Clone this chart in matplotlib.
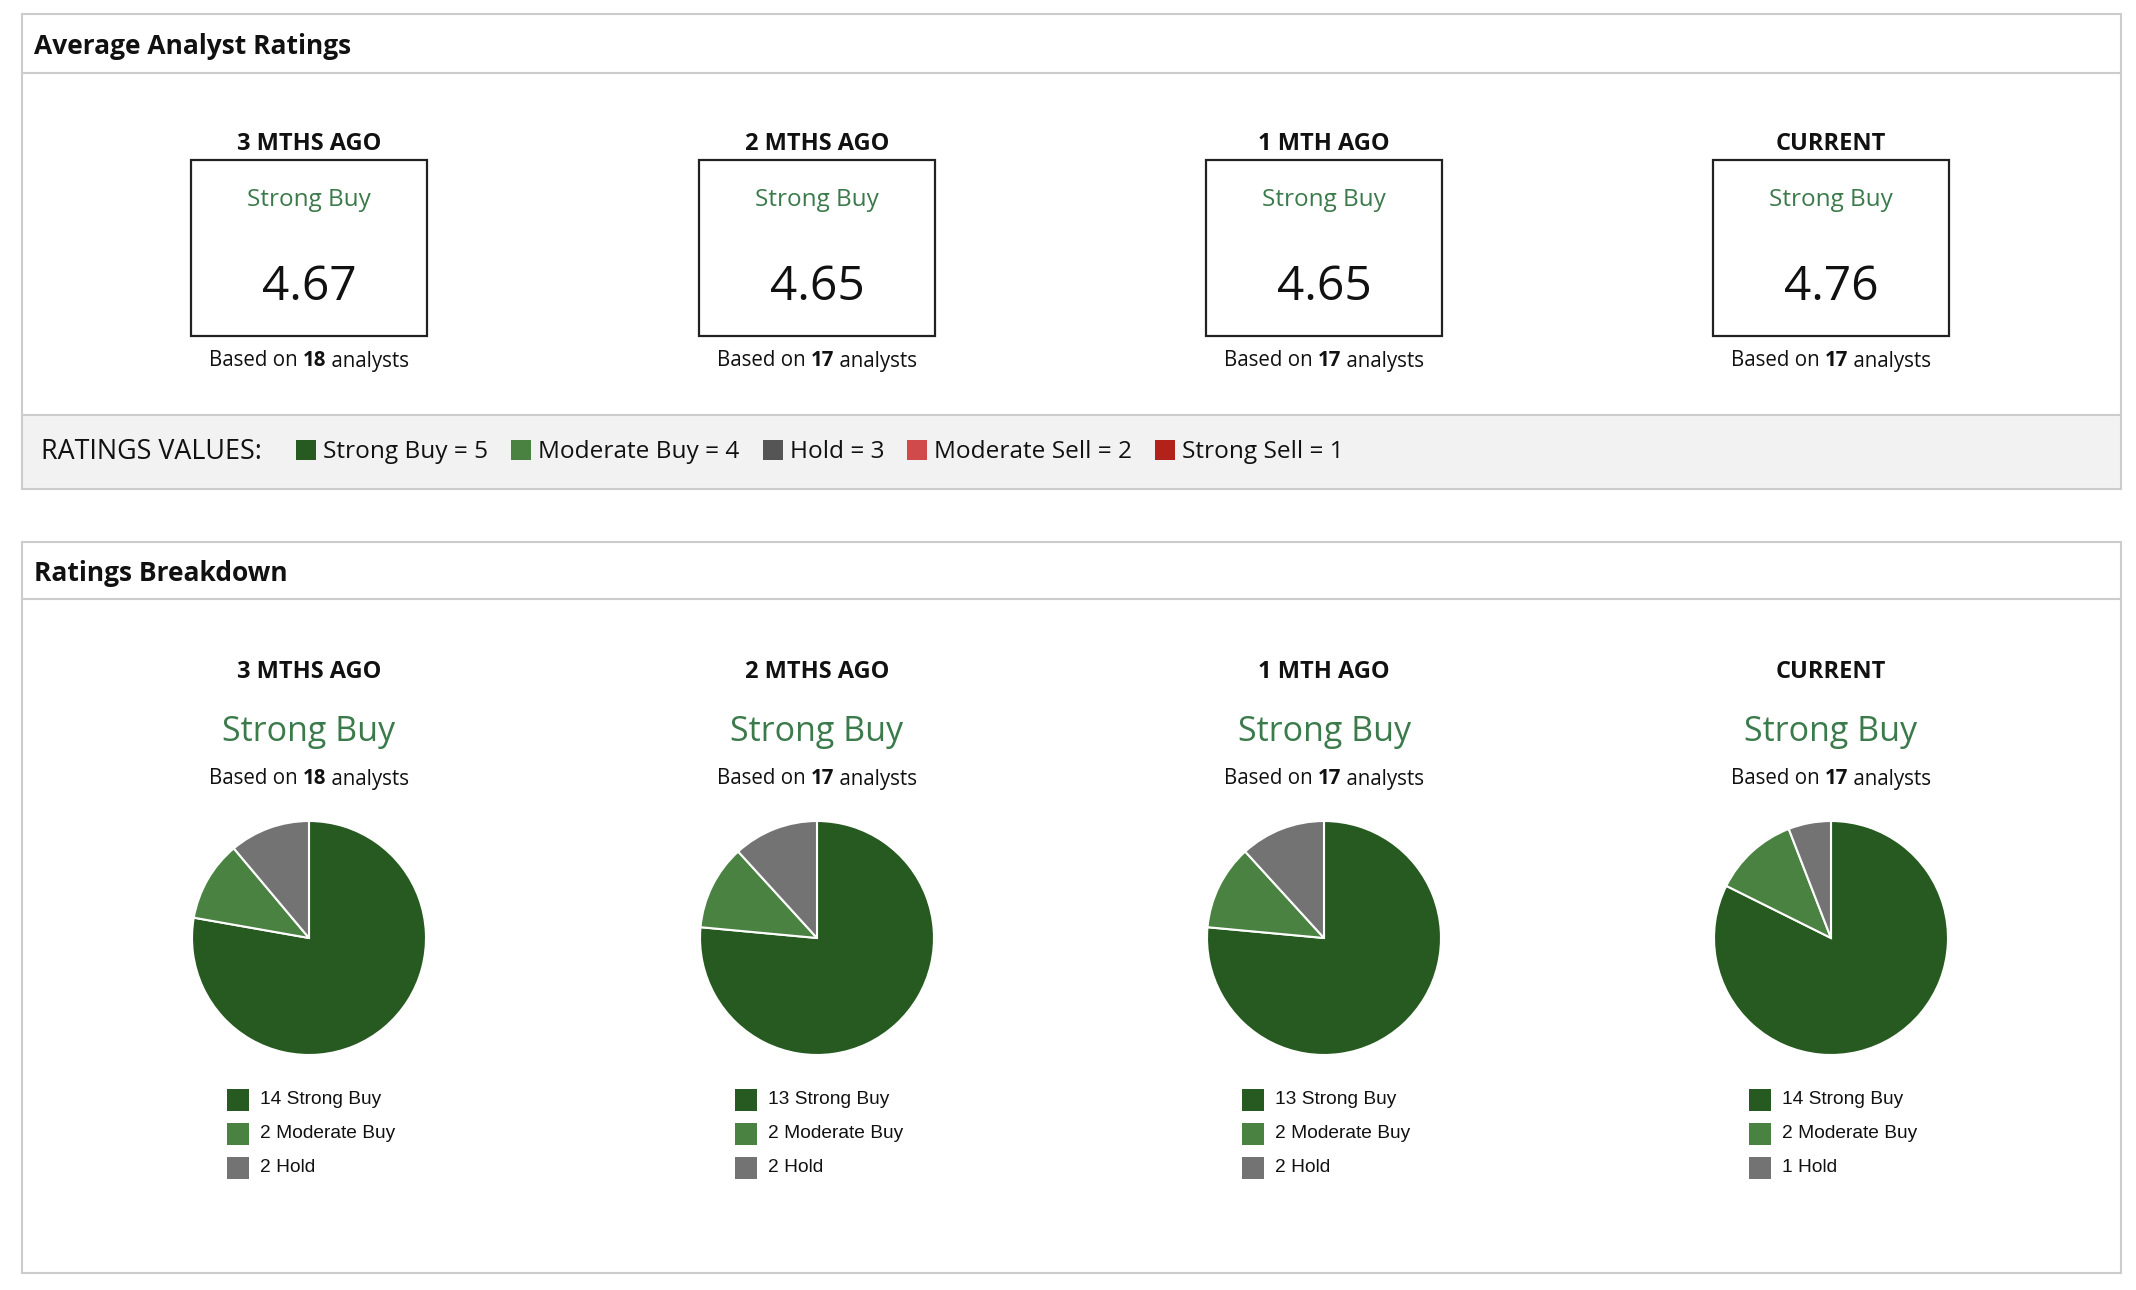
import matplotlib
matplotlib.use("Agg")
import matplotlib.pyplot as plt
from matplotlib.patches import Rectangle

# data
periods = ["3 MTHS AGO", "2 MTHS AGO", "1 MTH AGO", "CURRENT"]
consensus = ["Strong Buy", "Strong Buy", "Strong Buy", "Strong Buy"]
avg_scores = [4.67, 4.65, 4.65, 4.76]
n_analysts = [18, 17, 17, 17]
strong_buy = [14, 13, 13, 14]
moderate_buy = [2, 2, 2, 2]
hold = [2, 2, 2, 1]

rating_names = ["Strong Buy", "Moderate Buy", "Hold", "Moderate Sell", "Strong Sell"]
rating_values = [5, 4, 3, 2, 1]
rating_colors = ["#265a20", "#4a8242", "#555555", "#d04a4a", "#b2221a"]
pie_colors = ["#265a20", "#4a8242", "#737373"]

W, H = 2136, 1290
FONT = "Open Sans"
GREEN_TXT = "#3b7a4a"
BORDER = "#cccccc"

fig = plt.figure(figsize=(W / 100, H / 100), dpi=100)
ax = fig.add_axes([0, 0, 1, 1])
renderer = fig.canvas.get_renderer()


def Y(y):
    # pixel rows counted from the top
    return H - y


def text_width(s, **kw):
    t = ax.text(0, 0, s, **kw)
    w = t.get_window_extent(renderer).width
    t.remove()
    return w


def based_on(cx, y, n, size):
    parts = [("Based on ", "normal"), (str(n), "bold"), (" analysts", "normal")]
    widths = [text_width(p, fontsize=size, family=FONT, fontweight=wt) for p, wt in parts]
    x = cx - sum(widths) / 2
    for (p, wt), w in zip(parts, widths):
        ax.text(x, Y(y), p, fontsize=size, family=FONT, fontweight=wt,
                ha="left", va="center", color="#111111")
        x += w


def panel(top, bottom, sep, title):
    ax.add_patch(Rectangle((22, Y(bottom)), 2121 - 22, bottom - top, fill=False,
                           edgecolor=BORDER, linewidth=1.5))
    ax.plot([22, 2121], [Y(sep), Y(sep)], color=BORDER, linewidth=1.5)
    ax.text(34, Y((top + sep) / 2 + 3), title, fontsize=19, fontweight="bold",
            family=FONT, ha="left", va="center", color="#111111")


centers = [309, 817, 1324, 1831]

# ---- top panel: average ratings ----
ax.add_patch(Rectangle((22, Y(489)), 2121 - 22, 489 - 415, facecolor="#f2f2f2",
                       edgecolor="none"))
ax.plot([22, 2121], [Y(415), Y(415)], color=BORDER, linewidth=1.5)
panel(14, 489, 73, "Average Analyst Ratings")

for i, cx in enumerate(centers):
    ax.text(cx, Y(144), periods[i], fontsize=17, fontweight="bold", family=FONT,
            ha="center", va="center", color="#111111")
    ax.add_patch(Rectangle((cx - 118, Y(336)), 236, 176, fill=False,
                           edgecolor="#222222", linewidth=1.6))
    ax.text(cx, Y(200), consensus[i], fontsize=17.5, family=FONT, ha="center",
            va="center", color=GREEN_TXT)
    ax.text(cx, Y(287), "%.2f" % avg_scores[i], fontsize=34.5, family=FONT,
            ha="center", va="center", color="#111111")
    based_on(cx, 361, n_analysts[i], 14.8)

# legend row of rating values
ax.text(41, Y(452), "RATINGS VALUES:", fontsize=19.4, family=FONT, ha="left",
        va="center", color="#111111")
x = 296
for name, val, col in zip(rating_names, rating_values, rating_colors):
    ax.add_patch(Rectangle((x, Y(460)), 20, 20, facecolor=col, edgecolor="none"))
    lab = "%s = %d" % (name, val)
    ax.text(x + 27, Y(452), lab, fontsize=17.6, family=FONT, ha="left", va="center",
            color="#111111")
    x += 27 + text_width(lab, fontsize=17.6, family=FONT) + 23

# ---- bottom panel: breakdown ----
panel(542, 1273, 599, "Ratings Breakdown")

for i, cx in enumerate(centers):
    ax.text(cx, Y(672), periods[i], fontsize=17, fontweight="bold", family=FONT,
            ha="center", va="center", color="#111111")
    ax.text(cx, Y(732), consensus[i], fontsize=24.5, family=FONT, ha="center",
            va="center", color=GREEN_TXT)
    based_on(cx, 779, n_analysts[i], 14.8)

    counts = [strong_buy[i], moderate_buy[i], hold[i]]
    ax.pie(counts, colors=pie_colors, startangle=90, counterclock=False,
           center=(cx, Y(938)), radius=117, frame=True,
           wedgeprops=dict(edgecolor="white", linewidth=1.5))

    labels = ["%d Strong Buy" % counts[0], "%d Moderate Buy" % counts[1],
              "%d Hold" % counts[2]]
    for k, (lab, col) in enumerate(zip(labels, pie_colors)):
        yy = 1100 + 34 * k
        ax.add_patch(Rectangle((cx - 82, Y(yy + 11)), 22, 22, facecolor=col,
                               edgecolor="none"))
        ax.text(cx - 49, Y(yy), lab, fontsize=13.8, family="Liberation Sans",
                ha="left", va="center", color="#111111")

ax.set_xlim(0, W)
ax.set_ylim(0, H)
ax.set_aspect("auto")
ax.axis("off")

fig.savefig("out.png", dpi=100, facecolor="white")
